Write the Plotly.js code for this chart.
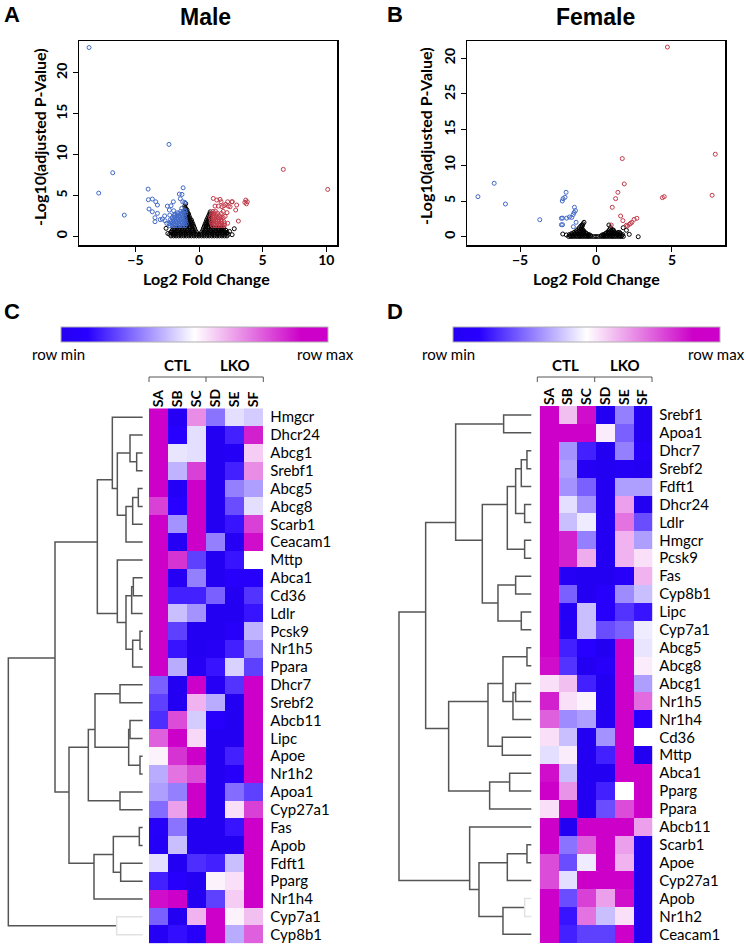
<!DOCTYPE html>
<html><head><meta charset="utf-8">
<script src="https://cdn.plot.ly/plotly-3.0.1.min.js"></script>
<style>html,body{margin:0;padding:0;background:#fff}#chart{width:746px;height:947px}</style>
</head><body><div id="chart"></div>
<script>
// ---------------- DATA ----------------
// Panel A (Male) volcano: [log2FC, -log10 adj p]
const maleDown = [[-8.64,23.1],[-2.36,11.25],[-6.78,7.78],[-7.88,5.29],[-5.87,2.6],[-4.0,5.78],[-1.25,5.94],
 [-3.98,4.48],[-3.67,4.56],[-3.40,4.23],[-3.27,3.83],[-3.93,3.34],[-3.67,3.01],[-3.27,2.81],[-3.46,2.28],[-3.46,1.79],
 [-2.88,2.12],[-2.67,1.91],[-2.54,1.59],[-2.49,3.7],[-2.2,3.74],[-2.02,4.23],[-2.33,3.22],[-1.99,3.13],[-1.55,5.17],
 [-1.34,5.13],[-1.47,4.6],[-1.28,4.23],[-1.12,4.16],[-1.89,2.73],[-1.70,2.89],[-1.36,3.42],[-1.1,3.2],[-2.7,2.5],
 [-3.05,2.05],[-2.3,2.6]];
const maleDownCoreRows = [
 [1.3,[-2.3,-2.1,-1.9,-1.7,-1.5,-1.3,-1.1]],
 [1.55,[-2.35,-2.15,-1.95,-1.75,-1.55,-1.35,-1.15,-1.0]],
 [1.8,[-2.2,-2.0,-1.8,-1.6,-1.4,-1.2,-1.05]],
 [2.05,[-2.25,-2.05,-1.85,-1.65,-1.45,-1.25,-1.08]],
 [2.3,[-2.1,-1.9,-1.7,-1.5,-1.3,-1.1]],
 [2.55,[-1.95,-1.75,-1.55,-1.35,-1.15]],
 [2.8,[-1.6,-1.4,-1.2,-1.05]],
 [3.05,[-1.45,-1.25,-1.1]]];
const maleUp = [[6.62,8.19],[10.11,5.74],[1.12,4.64],[1.39,4.44],[1.65,4.52],[1.52,3.7],[1.26,3.7],[2.25,4.23],
 [2.44,3.62],[1.96,3.74],[2.62,4.23],[2.96,3.83],[3.67,4.44],[3.79,4.23],[3.6,4.15],[3.09,1.87],[2.88,3.22],
 [1.81,3.62],[2.1,3.91],[2.3,3.7],[2.57,4.23],[1.73,4.23],[2.2,2.9],[2.05,2.45],[2.25,1.6],[2.0,1.35],[3.72,3.98]];
const maleUpCoreRows = [
 [1.3,[1.05,1.25,1.45,1.65,1.85]],
 [1.55,[1.0,1.2,1.4,1.6,1.8,2.0]],
 [1.8,[0.95,1.15,1.35,1.55,1.75,1.95]],
 [2.05,[0.95,1.15,1.35,1.55,1.75]],
 [2.3,[0.9,1.1,1.3,1.5,1.7,1.9]],
 [2.55,[0.95,1.15,1.35,1.6]],
 [2.8,[1.0,1.2,1.45,1.75]],
 [3.05,[1.1,1.3,1.9]]];
const maleNotSigRows = [
 [0.05,[-2.2,-2.0,-1.8,-1.6,-1.4,-1.2,-1.0,-0.8,-0.6,-0.4,-0.2,0,0.2,0.4,0.6,0.8,1.0,1.2,1.4,1.6,1.8,2.0,2.2]],
 [0.25,[-2.3,-2.05,-1.85,-1.65,-1.45,-1.25,-1.05,-0.85,-0.65,-0.45,-0.25,-0.1,0.1,0.25,0.45,0.65,0.85,1.05,1.25,1.45,1.65,1.85,2.05,2.3]],
 [0.5,[-2.2,-2.0,-1.8,-1.6,-1.4,-1.2,-1.0,-0.8,-0.6,-0.4,-0.2,0.2,0.4,0.6,0.8,1.0,1.2,1.4,1.6,1.8,2.0,2.2]],
 [0.75,[-2.1,-1.9,-1.7,-1.5,-1.3,-1.1,-0.9,-0.7,-0.5,-0.3,0.3,0.5,0.7,0.9,1.1,1.3,1.5,1.7,1.9,2.1]],
 [1.0,[-1.95,-1.75,-1.55,-1.35,-1.15,-0.95,-0.75,-0.55,-0.35,0.35,0.55,0.75,0.95,1.15,1.35,1.55,1.75,1.95]],
 [1.25,[-0.95,-0.75,-0.55,-0.42,0.42,0.55,0.75,0.95]],
 [1.5,[-0.95,-0.78,-0.6,-0.48,0.48,0.6,0.78,0.92]],
 [1.75,[-0.98,-0.82,-0.66,-0.55,0.55,0.68,0.82,0.95]],
 [2.0,[-1.0,-0.85,-0.7,-0.6,0.6,0.72,0.85,0.95]],
 [2.25,[-1.0,-0.86,-0.72,0.68,0.8,0.92]],
 [2.5,[-1.02,-0.9,-0.78,0.75,0.88]],
 [2.75,[-1.02,-0.9,-0.82,0.82,0.92]],
 [3.0,[-1.04,-0.92,0.88]],
 [3.25,[-1.05,-0.95]],
 [3.5,[-1.08]]];
const maleNotSigExtra = [[-2.59,0.98],[-2.15,0.56],[-2.02,0.28],[-2.45,0.35],[2.77,0.93],[1.78,0.77],[2.17,0.37],
 [2.4,0.6],[2.6,0.2],[-1.08,3.4],[-1.12,3.7],[-1.05,4.0]];

// Panel B (Female) volcano
const femaleDown = [[-7.77,5.61],[-6.70,7.48],[-5.96,4.58],[-3.70,2.38],[-1.97,6.22],[-2.04,5.52],[-2.17,5.33],
 [-2.22,5.0],[-1.42,4.12],[-1.35,3.65],[-1.44,3.4],[-1.5,3.1],[-2.28,2.58],[-2.2,2.6],[-1.93,2.6],[-1.31,2.02],
 [-2.28,1.68],[-2.2,1.68],[-1.49,1.4],[-1.75,2.76],[-1.6,2.7]];
const femaleUp = [[4.70,26.55],[7.85,11.55],[1.73,10.94],[1.86,7.39],[1.44,6.22],[1.29,5.33],[1.07,4.12],[4.49,5.61],
 [4.37,5.47],[7.64,5.8],[1.62,2.9],[1.77,2.25],[2.27,1.87],[2.36,2.01],[2.19,1.73],[2.07,1.5],[2.69,2.58],
 [2.51,2.43],[1.0,1.64],[2.0,1.6]];
const femaleNotSigRows = [
 [0.03,[-1.8,-1.65,-1.5,-1.35,-1.2,-1.05,-0.9,-0.75,-0.6,-0.45,-0.3,-0.15,0,0.15,0.3,0.45,0.6,0.75,0.9,1.05,1.2,1.35,1.5,1.65,1.8]],
 [0.15,[-1.7,-1.5,-1.3,-1.1,-0.9,-0.7,-0.5,-0.35,0.35,0.5,0.7,0.9,1.1,1.3,1.5,1.7]],
 [0.3,[-1.75,-1.55,-1.35,-1.15,-0.95,-0.75,-0.55,-0.45,0.45,0.55,0.75,0.95,1.15,1.35,1.55,1.75]],
 [0.45,[-1.6,-1.4,-1.2,-1.0,-0.8,-0.62,0.62,0.8,1.0,1.2,1.4,1.6]],
 [0.6,[-1.45,-1.25,-1.05,-0.85,-0.72,0.72,0.88,1.05,1.25,1.45]],
 [0.8,[-1.3,-1.1,-0.92,-0.8,0.82,0.98,1.15]],
 [1.0,[-1.2,-1.0,-0.88,0.9,1.05]],
 [1.25,[-1.1,-0.95,0.95]],
 [1.5,[-1.0,-0.9]]];
const femaleNotSigExtra = [[-0.79,2.02],[-0.92,1.64],[-2.19,0.38],[0.85,1.64],[1.14,0.94],[1.79,1.26],[2.78,0],
 [2.19,0.33],[-0.85,1.8],[1.55,0.6],[2.0,0.9],[-1.95,0.25]];
const femaleYTickVals = [0,5,10,15,20,25];
const femaleYTickText = ['0','5','10','15','25','20'];

// Heatmaps: samples, genes (top to bottom), scaled values (0 = row min, 1 = row max)
const samples = ['SA','SB','SC','SD','SE','SF'];
const genesC = ['Hmgcr','Dhcr24','Abcg1','Srebf1','Abcg5','Abcg8','Scarb1','Ceacam1','Mttp','Abca1','Cd36','Ldlr',
 'Pcsk9','Nr1h5','Ppara','Dhcr7','Srebf2','Abcb11','Lipc','Apoe','Nr1h2','Apoa1','Cyp27a1','Fas','Apob','Fdft1',
 'Pparg','Nr1h4','Cyp7a1','Cyp8b1'];
const valuesC = [
 [1.0,0.02,0.68,0.28,0.45,0.42],
 [1.0,0.1,0.45,0.0,0.15,0.85],
 [1.0,0.46,0.45,0.0,0.03,0.58],
 [1.0,0.38,0.8,0.0,0.15,0.68],
 [0.95,0.03,1.0,0.0,0.3,0.35],
 [0.8,0.1,1.0,0.0,0.22,0.45],
 [0.9,0.33,1.0,0.0,0.13,0.8],
 [0.95,0.02,1.0,0.3,0.02,0.88],
 [1.0,0.82,0.2,0.0,0.13,0.5],
 [1.0,0.02,0.3,0.0,0.08,0.08],
 [1.0,0.15,0.15,0.25,0.0,0.18],
 [1.0,0.4,0.33,0.0,0.0,0.13],
 [1.0,0.2,0.0,0.0,0.05,0.38],
 [1.0,0.13,0.0,0.02,0.15,0.3],
 [1.0,0.37,0.02,0.13,0.43,0.2],
 [0.25,0.0,1.0,0.02,0.18,0.92],
 [0.2,0.0,0.62,0.37,0.0,1.0],
 [0.17,0.78,0.42,0.07,0.0,1.0],
 [0.75,0.93,0.56,0.0,0.0,1.0],
 [0.52,0.82,0.9,0.0,0.15,1.0],
 [0.37,0.72,0.78,0.0,0.05,1.0],
 [0.35,0.3,1.0,0.0,0.27,0.2],
 [0.27,0.65,1.0,0.0,0.55,0.8],
 [0.05,0.28,0.0,0.0,0.13,1.0],
 [0.03,0.4,0.0,0.0,0.0,1.0],
 [0.45,0.0,0.17,0.15,0.4,1.0],
 [0.15,0.07,0.0,0.52,0.55,1.0],
 [0.88,0.92,0.0,0.2,0.58,1.0],
 [0.25,0.0,0.62,1.0,0.52,0.6],
 [0.02,0.12,0.05,1.0,0.37,0.75]];
const genesD = ['Srebf1','Apoa1','Dhcr7','Srebf2','Fdft1','Dhcr24','Ldlr','Hmgcr','Pcsk9','Fas','Cyp8b1','Lipc',
 'Cyp7a1','Abcg5','Abcg8','Abcg1','Nr1h5','Nr1h4','Cd36','Mttp','Abca1','Pparg','Ppara','Abcb11','Scarb1','Apoe',
 'Cyp27a1','Apob','Nr1h2','Ceacam1'];
const valuesD = [
 [1.0,0.6,0.88,0.0,0.3,0.0],
 [1.0,1.0,0.9,0.53,0.25,0.0],
 [1.0,0.33,0.15,0.0,0.3,0.05],
 [1.0,0.35,0.02,0.0,0.03,0.0],
 [1.0,0.33,0.25,0.0,0.35,0.35],
 [1.0,0.45,0.33,0.0,0.65,0.0],
 [1.0,0.4,0.47,0.0,0.72,0.22],
 [1.0,0.85,0.3,0.0,0.62,0.35],
 [1.0,0.85,0.63,0.0,0.62,0.55],
 [1.0,0.02,0.0,0.0,0.05,0.62],
 [1.0,0.25,0.0,0.08,0.32,0.4],
 [1.0,0.03,0.4,0.07,0.18,0.13],
 [1.0,0.02,0.4,0.22,0.25,0.47],
 [1.0,0.15,0.1,0.0,1.0,0.46],
 [0.88,0.18,0.0,0.05,1.0,0.53],
 [0.55,0.6,0.15,0.0,1.0,0.35],
 [0.85,0.55,0.52,0.0,1.0,0.73],
 [0.75,0.32,0.35,0.0,1.0,0.1],
 [0.55,0.4,0.0,0.33,1.0,0.5],
 [0.45,0.53,0.0,0.15,1.0,0.0],
 [0.88,0.4,0.0,0.0,0.93,1.0],
 [1.0,0.67,0.0,0.15,0.5,1.0],
 [0.55,1.0,0.0,0.22,0.78,1.0],
 [1.0,0.0,1.0,1.0,1.0,0.65],
 [1.0,0.28,0.75,1.0,0.65,0.0],
 [0.78,0.22,0.47,1.0,0.62,0.0],
 [0.78,0.45,0.93,1.0,0.95,0.0],
 [1.0,0.22,0.8,0.65,0.88,0.0],
 [1.0,0.13,0.72,0.4,0.55,0.0],
 [1.0,0.15,0.2,0.2,0.9,0.0]];

// Dendrograms: [childA, childB, merge distance]; leaves 0..29, merged nodes numbered from 30
const mergesC = [[2,3,18],[1,30,38],[4,5,13],[32,6,30],[33,7,50],[31,34,76],[0,35,91],[9,10,28],[37,11,33],
 [12,13,8],[39,14,30],[38,40,50],[8,41,76],[36,42,136],[15,16,68],[17,18,38],[19,20,8],[45,46,42],[44,47,143],
 [21,22,68],[48,49,163],[23,24,10],[25,26,66],[51,52,88],[53,27,146],[50,54,221],[43,55,263],[28,29,78],[56,57,403]];
const mergesD = [[0,1,83],[2,3,13],[31,4,30],[5,6,20],[32,33,47],[7,8,20],[34,35,72],[9,10,47],[11,12,30],
 [37,38,100],[36,39,147],[30,40,227],[13,14,13],[15,16,47],[43,17,55],[42,44,85],[18,19,87],[45,46,130],[20,21,65],
 [48,22,125],[47,49,248],[41,50,317],[24,25,13],[52,26,72],[27,28,20],[54,29,85],[53,55,157],[23,56,185],[51,57,397]];

// ---------------- STYLE / HELPERS ----------------
const W = 746, H = 947;
const px = v => v / W, py = v => 1 - v / H;
const lightMergesC = [27], lightMergesD = [24];

function fromRows(rows) { const out = []; rows.forEach(r => r[1].forEach(x => out.push([x, r[0]]))); return out; }
function xs(p) { return p.map(d => d[0]); }
function ys(p) { return p.map(d => d[1]); }

function dendro(merges, n, lightIdx) {
  const pos = [], hgt = [], lv = [];
  for (let i = 0; i < n; i++) { pos[i] = i; hgt[i] = 0; lv[i] = [i]; }
  const dark = {x: [], y: []}, light = {x: [], y: []};
  merges.forEach((m, k) => {
    const [a, b, h] = m, id = n + k;
    lv[id] = lv[a].concat(lv[b]);
    pos[id] = lv[id].reduce((s, v) => s + v, 0) / lv[id].length;
    hgt[id] = h;
    const t = lightIdx.includes(k) ? light : dark;
    t.x.push(hgt[a], h, h, hgt[b], null);
    t.y.push(pos[a], pos[a], pos[b], pos[b], null);
  });
  return {dark, light};
}

const BLUE = '#4169c8', RED = '#c23b4a';
const tf = {family: 'Lato', size: 14, color: '#000', weight: 'bold'};
function mk(color) { return {symbol: 'circle-open', size: 4, color: color, line: {width: 1}}; }

const mNS = fromRows(maleNotSigRows).concat(maleNotSigExtra);
const mDn = fromRows(maleDownCoreRows).concat(maleDown);
const mUp = fromRows(maleUpCoreRows).concat(maleUp);
const fNS = fromRows(femaleNotSigRows).concat(femaleNotSigExtra);

const traces = [
  {type: 'scatter', mode: 'markers', x: xs(mNS), y: ys(mNS), xaxis: 'x', yaxis: 'y', marker: mk('#000')},
  {type: 'scatter', mode: 'markers', x: xs(mDn), y: ys(mDn), xaxis: 'x', yaxis: 'y', marker: mk(BLUE)},
  {type: 'scatter', mode: 'markers', x: xs(mUp), y: ys(mUp), xaxis: 'x', yaxis: 'y', marker: mk(RED)},
  {type: 'scatter', mode: 'markers', x: xs(fNS), y: ys(fNS), xaxis: 'x2', yaxis: 'y2', marker: mk('#000')},
  {type: 'scatter', mode: 'markers', x: xs(femaleDown), y: ys(femaleDown), xaxis: 'x2', yaxis: 'y2', marker: mk(BLUE)},
  {type: 'scatter', mode: 'markers', x: xs(femaleUp), y: ys(femaleUp), xaxis: 'x2', yaxis: 'y2', marker: mk(RED)}
];

const cscale = [[0, '#2400f2'], [0.1, '#2800ff'], [0.5, '#ffffff'], [0.9, '#cc00c8'], [1, '#cc00c8']];
function cbar(cx) {
  return {orientation: 'h', x: px(cx), xanchor: 'center', y: py(335), yanchor: 'middle', len: 287, lenmode: 'pixels',
    thickness: 15, thicknessmode: 'pixels', showticklabels: false, ticks: '', outlinewidth: 1, outlinecolor: '#b0b0b0'};
}
const idx = genesC.map((g, i) => i);
traces.push({type: 'heatmap', z: valuesC, x: samples.map((s, i) => i), y: idx, xaxis: 'x3', yaxis: 'y3',
  colorscale: cscale, zmin: 0, zmax: 1, colorbar: cbar(194.5), hoverinfo: 'skip'});
traces.push({type: 'heatmap', z: valuesD, x: samples.map((s, i) => i), y: genesD.map((g, i) => i), xaxis: 'x5', yaxis: 'y5',
  colorscale: cscale, zmin: 0, zmax: 1, colorbar: cbar(586), hoverinfo: 'skip'});

const dC = dendro(mergesC, genesC.length, lightMergesC);
const dD = dendro(mergesD, genesD.length, lightMergesD);
[[dC, 'x4', 'y4'], [dD, 'x6', 'y6']].forEach(([d, xa, ya]) => {
  traces.push({type: 'scatter', mode: 'lines', x: d.dark.x, y: d.dark.y, xaxis: xa, yaxis: ya,
    line: {color: '#555', width: 1.5}, hoverinfo: 'skip'});
  traces.push({type: 'scatter', mode: 'lines', x: d.light.x, y: d.light.y, xaxis: xa, yaxis: ya,
    line: {color: '#e2e2e2', width: 1.5}, hoverinfo: 'skip'});
});

function volX(dom, range, tv) {
  return {domain: dom, range: range, tickvals: tv, ticks: 'outside', ticklen: 5, tickwidth: 1, tickcolor: '#000',
    showline: true, mirror: true, linecolor: '#000', linewidth: 1.5, showgrid: false, zeroline: false, tickfont: tf,
    fixedrange: true};
}
const hidden = {visible: false, fixedrange: true};
const heatYDomC = [py(943.6), py(408.3)], heatYDomD = [py(943.3), py(406)];

const layout = {
  width: W, height: H, margin: {l: 0, r: 0, t: 0, b: 0}, paper_bgcolor: '#fff', plot_bgcolor: '#fff',
  showlegend: false, font: {family: 'Lato', color: '#000'},
  xaxis: Object.assign(volX([px(79), px(337)], [-9.43, 10.84], [-5, 0, 5, 10]), {anchor: 'y', ticklabelstandoff: -3}),
  yaxis: Object.assign(volX([py(245), py(41)], [-1.06, 23.9], [0, 5, 10, 15, 20]), {anchor: 'x', tickangle: -90}),
  xaxis2: Object.assign(volX([px(467), px(725)], [-8.49, 8.49], [-5, 0, 5]), {anchor: 'y2', ticklabelstandoff: -3}),
  yaxis2: Object.assign(volX([py(245), py(41)], [-1.16, 27.4], femaleYTickVals), {anchor: 'x2', tickangle: -90, ticktext: femaleYTickText}),
  xaxis3: {domain: [px(149), px(263.3)], range: [-0.5, 5.5], anchor: 'y3', side: 'top', tickvals: [0,1,2,3,4,5],
    ticktext: samples, tickangle: -90, ticks: '', showgrid: false, zeroline: false, showline: false,
    tickfont: {family: 'Lato', size: 14, weight: 'bold', color: '#000'}, fixedrange: true},
  yaxis3: {domain: heatYDomC, range: [29.5, -0.5], anchor: 'x3', side: 'right', tickvals: idx, ticktext: genesC,
    ticks: '', showgrid: false, zeroline: false, showline: false, ticklabelstandoff: 6,
    tickfont: {family: 'Lato', size: 15, color: '#000'}, fixedrange: true},
  xaxis4: Object.assign({domain: [0, px(149)], range: [428, -19], anchor: 'y4'}, hidden),
  yaxis4: Object.assign({domain: heatYDomC, range: [29.5, -0.5], anchor: 'x4'}, hidden),
  xaxis5: {domain: [px(539.7), px(652.3)], range: [-0.5, 5.5], anchor: 'y5', side: 'top', tickvals: [0,1,2,3,4,5],
    ticktext: samples, tickangle: -90, ticks: '', showgrid: false, zeroline: false, showline: false,
    tickfont: {family: 'Lato', size: 14, weight: 'bold', color: '#000'}, fixedrange: true},
  yaxis5: {domain: heatYDomD, range: [29.5, -0.5], anchor: 'x5', side: 'right', tickvals: genesD.map((g, i) => i), ticktext: genesD,
    ticks: '', showgrid: false, zeroline: false, showline: false, ticklabelstandoff: 6,
    tickfont: {family: 'Lato', size: 15, color: '#000'}, fixedrange: true},
  xaxis6: Object.assign({domain: [px(373), px(539.7)], range: [475, -25.2], anchor: 'y6'}, hidden),
  yaxis6: Object.assign({domain: heatYDomD, range: [29.5, -0.5], anchor: 'x6'}, hidden),
  annotations: [],
  shapes: []
};

function ann(text, x, y, font, opts) {
  layout.annotations.push(Object.assign({text: text, x: px(x), y: py(y), xref: 'paper', yref: 'paper', showarrow: false,
    xanchor: 'center', yanchor: 'middle', font: font}, opts || {}));
}
const letterF = {family: 'Liberation Sans', size: 22, weight: 'bold', color: '#000'};
const titleF = {family: 'Liberation Sans', size: 23, weight: 'bold', color: '#000'};
const axF = {family: 'Lato', size: 16, weight: 'bold', color: '#000'};
const smallF = {family: 'Lato', size: 15, color: '#000'};
const grpF = {family: 'Lato', size: 15, weight: 'bold', color: '#000'};
ann('A', 2, 14, letterF, {xanchor: 'left'});
ann('B', 385, 14, letterF, {xanchor: 'left'});
ann('C', 2, 311, letterF, {xanchor: 'left'});
ann('D', 385, 311, letterF, {xanchor: 'left'});
ann('Male', 205, 17, titleF);
ann('Female', 595, 17, titleF);
ann('Log2 Fold Change', 206, 279, axF);
ann('Log2 Fold Change', 596, 279, axF);
ann('-Log10(adjusted P-Value)', 40, 137, axF, {textangle: -90});
ann('-Log10(adjusted P-Value)', 426, 136, axF, {textangle: -90});
ann('row min', 58.5, 354, smallF);
ann('row max', 325.7, 354, smallF);
ann('row min', 449, 354, smallF);
ann('row max', 716.7, 354, smallF);
ann('CTL', 177.5, 365, grpF);
ann('LKO', 234.7, 365, grpF);
ann('CTL', 565.8, 365, grpF);
ann('LKO', 624.7, 365, grpF);

function bracket(x0, xm, x1, y) {
  const ln = {color: '#555', width: 1};
  const s = (a, b, c, d) => layout.shapes.push({type: 'line', xref: 'paper', yref: 'paper', x0: px(a), y0: py(b), x1: px(c), y1: py(d), line: ln});
  s(x0, y, x1, y); s(x0, y, x0, y + 5); s(xm, y, xm, y + 5); s(x1, y, x1, y + 5);
}
bracket(149, 206, 263.3, 377);
bracket(537.3, 594.7, 652, 377);

Plotly.newPlot('chart', traces, layout, {displayModeBar: false, staticPlot: true});
</script></body></html>
